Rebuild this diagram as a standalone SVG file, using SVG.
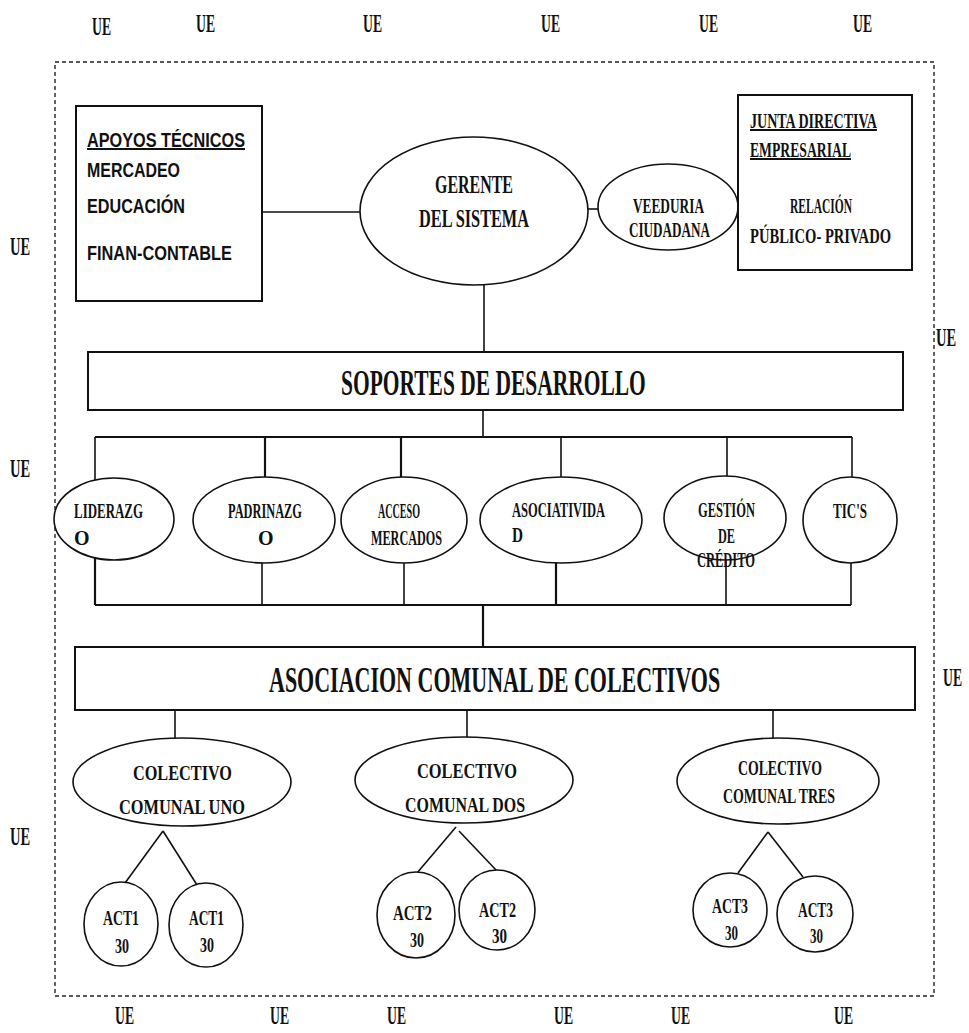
<svg xmlns="http://www.w3.org/2000/svg" width="969" height="1033" viewBox="0 0 969 1033">
<style>
.bg{fill:#fff}
.shape{fill:#fff;stroke:#111;stroke-width:1.6}
.box{fill:#fff;stroke:#111;stroke-width:2}
.ln{fill:none;stroke:#111;stroke-width:1.6}
.bus{fill:none;stroke:#111;stroke-width:2.2}
.dash{fill:none;stroke:#222;stroke-width:1.4;stroke-dasharray:4 3}
.s{font-family:"Liberation Serif",serif;font-weight:bold;fill:#111}
.a{font-family:"Liberation Sans",Arial,sans-serif;font-weight:bold;fill:#111;font-size:20px}
.ue{font-family:"Liberation Serif",serif;font-weight:bold;fill:#111;font-size:26px}
.f20{font-size:20px}
.f22{font-size:22px}
.f24{font-size:25px}
</style>
<rect class="bg" x="0" y="0" width="969" height="1033"/>

<g id="ue-labels">
<text class="ue" transform="translate(92,35) scale(0.56,1)" textLength="34" lengthAdjust="spacingAndGlyphs">UE</text>
<text class="ue" transform="translate(196,32) scale(0.56,1)" textLength="34" lengthAdjust="spacingAndGlyphs">UE</text>
<text class="ue" transform="translate(363,32) scale(0.56,1)" textLength="34" lengthAdjust="spacingAndGlyphs">UE</text>
<text class="ue" transform="translate(541,32) scale(0.56,1)" textLength="34" lengthAdjust="spacingAndGlyphs">UE</text>
<text class="ue" transform="translate(699,32) scale(0.56,1)" textLength="34" lengthAdjust="spacingAndGlyphs">UE</text>
<text class="ue" transform="translate(853,32) scale(0.56,1)" textLength="34" lengthAdjust="spacingAndGlyphs">UE</text>
<text class="ue" transform="translate(10,255) scale(0.56,1)" textLength="36" lengthAdjust="spacingAndGlyphs">UE</text>
<text class="ue" transform="translate(10,477) scale(0.56,1)" textLength="36" lengthAdjust="spacingAndGlyphs">UE</text>
<text class="ue" transform="translate(10,845) scale(0.56,1)" textLength="36" lengthAdjust="spacingAndGlyphs">UE</text>
<text class="ue" transform="translate(936,346) scale(0.56,1)" textLength="36" lengthAdjust="spacingAndGlyphs">UE</text>
<text class="ue" transform="translate(943,686) scale(0.56,1)" textLength="34" lengthAdjust="spacingAndGlyphs">UE</text>
<text class="ue" transform="translate(115,1024) scale(0.56,1)" textLength="34" lengthAdjust="spacingAndGlyphs">UE</text>
<text class="ue" transform="translate(270,1024) scale(0.56,1)" textLength="34" lengthAdjust="spacingAndGlyphs">UE</text>
<text class="ue" transform="translate(387,1024) scale(0.56,1)" textLength="34" lengthAdjust="spacingAndGlyphs">UE</text>
<text class="ue" transform="translate(554,1024) scale(0.56,1)" textLength="34" lengthAdjust="spacingAndGlyphs">UE</text>
<text class="ue" transform="translate(671,1024) scale(0.56,1)" textLength="34" lengthAdjust="spacingAndGlyphs">UE</text>
<text class="ue" transform="translate(834,1024) scale(0.56,1)" textLength="34" lengthAdjust="spacingAndGlyphs">UE</text>
</g>

<rect id="boundary" class="dash" x="55" y="62" width="879" height="934"/>

<g id="connectors">
<line class="ln" x1="262" y1="212" x2="360" y2="212"/>
<line class="ln" x1="588" y1="209" x2="598" y2="209"/>
<line class="ln" x1="484" y1="285" x2="484" y2="352"/>
<line class="ln" x1="483" y1="410" x2="483" y2="437"/>
<line class="bus" x1="95" y1="437" x2="852" y2="437"/>
<line class="ln" x1="95" y1="437" x2="95" y2="481"/>
<line class="bus" x1="265" y1="437" x2="265" y2="477"/>
<line class="bus" x1="401" y1="437" x2="401" y2="477"/>
<line class="ln" x1="561" y1="437" x2="561" y2="477"/>
<line class="ln" x1="727" y1="437" x2="727" y2="476"/>
<line class="ln" x1="852" y1="437" x2="852" y2="477"/>
<line class="bus" x1="95" y1="557" x2="95" y2="605"/>
<line class="ln" x1="262" y1="563" x2="262" y2="605"/>
<line class="ln" x1="404" y1="563" x2="404" y2="605"/>
<line class="bus" x1="556" y1="563" x2="556" y2="605"/>
<line class="ln" x1="726" y1="560" x2="726" y2="605"/>
<line class="ln" x1="851" y1="563" x2="851" y2="605"/>
<line class="bus" x1="95" y1="605" x2="851" y2="605"/>
<line class="bus" x1="483" y1="605" x2="483" y2="647"/>
<line class="ln" x1="175" y1="710" x2="175" y2="738"/>
<line class="ln" x1="467" y1="710" x2="467" y2="737"/>
<line class="ln" x1="773" y1="710" x2="773" y2="738"/>
<line class="ln" x1="163" y1="831" x2="125" y2="883"/>
<line class="ln" x1="163" y1="831" x2="197" y2="885"/>
<line class="ln" x1="456" y1="827" x2="417" y2="873"/>
<line class="ln" x1="459" y1="831" x2="497" y2="871"/>
<line class="ln" x1="768" y1="832" x2="738" y2="873"/>
<line class="ln" x1="768" y1="832" x2="803" y2="877"/>
</g>

<g id="apoyos">
<rect class="box" x="76" y="106" width="186" height="195"/>
<text class="a" x="87" y="147" textLength="158" lengthAdjust="spacingAndGlyphs" text-decoration="underline">APOYOS TÉCNICOS</text>
<text class="a" x="87" y="177" textLength="93" lengthAdjust="spacingAndGlyphs">MERCADEO</text>
<text class="a" x="87" y="213" textLength="98" lengthAdjust="spacingAndGlyphs">EDUCACIÓN</text>
<text class="a" x="87" y="260" textLength="145" lengthAdjust="spacingAndGlyphs">FINAN-CONTABLE</text>
</g>

<g id="gerente">
<ellipse class="shape" cx="474" cy="211" rx="114" ry="74"/>
<text class="s f24" x="435" y="193" textLength="78" lengthAdjust="spacingAndGlyphs">GERENTE</text>
<text class="s f24" x="419" y="227" textLength="110" lengthAdjust="spacingAndGlyphs">DEL SISTEMA</text>
</g>

<g id="veeduria">
<ellipse class="shape" cx="668" cy="207" rx="70" ry="43"/>
<text class="s f20" x="633" y="213" textLength="71" lengthAdjust="spacingAndGlyphs">VEEDURIA</text>
<text class="s f20" x="629" y="237" textLength="81" lengthAdjust="spacingAndGlyphs">CIUDADANA</text>
</g>

<g id="junta">
<rect class="box" x="738" y="95" width="174" height="175"/>
<text class="s f20" x="750" y="128" textLength="127" lengthAdjust="spacingAndGlyphs" text-decoration="underline">JUNTA DIRECTIVA</text>
<text class="s f20" x="750" y="157" textLength="101" lengthAdjust="spacingAndGlyphs" text-decoration="underline">EMPRESARIAL</text>
<text class="s f20" x="790" y="213" textLength="62" lengthAdjust="spacingAndGlyphs">RELACIÓN</text>
<text class="s f20" x="750" y="243" textLength="141" lengthAdjust="spacingAndGlyphs">PÚBLICO- PRIVADO</text>
</g>

<g id="soportes">
<rect class="box" x="88" y="352" width="815" height="58"/>
<text class="s" style="font-size:36px" transform="translate(341,395) scale(0.6,1)" textLength="508" lengthAdjust="spacingAndGlyphs">SOPORTES DE DESARROLLO</text>
</g>

<g id="liderazgo">
<ellipse class="shape" cx="114" cy="519" rx="60" ry="41"/>
<text class="s f20" x="74" y="518" textLength="69" lengthAdjust="spacingAndGlyphs">LIDERAZG</text>
<text class="s f20" x="74" y="545">O</text>
</g>

<g id="padrinazgo">
<ellipse class="shape" cx="264" cy="520" rx="71" ry="43"/>
<text class="s f20" x="228" y="518" textLength="74" lengthAdjust="spacingAndGlyphs">PADRINAZG</text>
<text class="s f20" x="258" y="545">O</text>
</g>

<g id="acceso">
<ellipse class="shape" cx="404" cy="520" rx="63" ry="43"/>
<text class="s f20" x="378" y="518" textLength="42" lengthAdjust="spacingAndGlyphs">ACCESO</text>
<text class="s f20" x="371" y="545" textLength="71" lengthAdjust="spacingAndGlyphs">MERCADOS</text>
</g>

<g id="asociatividad">
<ellipse class="shape" cx="561" cy="520" rx="81" ry="43"/>
<text class="s f20" x="512" y="517" textLength="93" lengthAdjust="spacingAndGlyphs">ASOCIATIVIDA</text>
<text class="s f20" x="512" y="542" textLength="11" lengthAdjust="spacingAndGlyphs">D</text>
</g>

<g id="gestion">
<ellipse class="shape" cx="725" cy="518" rx="61" ry="42"/>
<text class="s f20" x="698" y="517" textLength="57" lengthAdjust="spacingAndGlyphs">GESTIÓN</text>
<text class="s f20" x="718" y="543" textLength="17" lengthAdjust="spacingAndGlyphs">DE</text>
<text class="s f20" x="697" y="567" textLength="58" lengthAdjust="spacingAndGlyphs">CRÉDITO</text>
</g>

<g id="tics">
<ellipse class="shape" cx="850" cy="520" rx="47" ry="43"/>
<text class="s f20" x="833" y="518" textLength="34" lengthAdjust="spacingAndGlyphs">TIC'S</text>
</g>

<g id="asociacion">
<rect class="box" x="75" y="647" width="840" height="63"/>
<text class="s" style="font-size:36px" transform="translate(269,692) scale(0.6,1)" textLength="752" lengthAdjust="spacingAndGlyphs">ASOCIACION COMUNAL DE COLECTIVOS</text>
</g>

<g id="colectivo-uno">
<ellipse class="shape" cx="182" cy="782" rx="109" ry="44"/>
<text class="s f22" x="133" y="780" textLength="99" lengthAdjust="spacingAndGlyphs">COLECTIVO</text>
<text class="s f22" x="119" y="814" textLength="126" lengthAdjust="spacingAndGlyphs">COMUNAL UNO</text>
</g>

<g id="colectivo-dos">
<ellipse class="shape" cx="464" cy="780" rx="109" ry="43"/>
<text class="s f22" x="417" y="778" textLength="100" lengthAdjust="spacingAndGlyphs">COLECTIVO</text>
<text class="s f22" x="405" y="812" textLength="120" lengthAdjust="spacingAndGlyphs">COMUNAL DOS</text>
</g>

<g id="colectivo-tres">
<ellipse class="shape" cx="778" cy="781" rx="101" ry="43"/>
<text class="s f20" x="738" y="775" textLength="84" lengthAdjust="spacingAndGlyphs">COLECTIVO</text>
<text class="s f20" x="723" y="803" textLength="112" lengthAdjust="spacingAndGlyphs">COMUNAL TRES</text>
</g>

<g id="act1-a">
<ellipse class="shape" cx="121" cy="924" rx="37" ry="42"/>
<text class="s f22" x="103" y="925" textLength="36" lengthAdjust="spacingAndGlyphs">ACT1</text>
<text class="s f22" x="115" y="953" textLength="14" lengthAdjust="spacingAndGlyphs">30</text>
</g>
<g id="act1-b">
<ellipse class="shape" cx="206" cy="925" rx="37" ry="42"/>
<text class="s f22" x="189" y="925" textLength="35" lengthAdjust="spacingAndGlyphs">ACT1</text>
<text class="s f22" x="200" y="952" textLength="14" lengthAdjust="spacingAndGlyphs">30</text>
</g>
<g id="act2-a">
<ellipse class="shape" cx="416" cy="915" rx="39" ry="43"/>
<text class="s f22" x="393" y="920" textLength="39" lengthAdjust="spacingAndGlyphs">ACT2</text>
<text class="s f22" x="410" y="947" textLength="14" lengthAdjust="spacingAndGlyphs">30</text>
</g>
<g id="act2-b">
<ellipse class="shape" cx="497" cy="910" rx="38" ry="40"/>
<text class="s f22" x="479" y="917" textLength="37" lengthAdjust="spacingAndGlyphs">ACT2</text>
<text class="s f22" x="492" y="943" textLength="15" lengthAdjust="spacingAndGlyphs">30</text>
</g>
<g id="act3-a">
<ellipse class="shape" cx="730" cy="910" rx="37" ry="37"/>
<text class="s f22" x="712" y="913" textLength="36" lengthAdjust="spacingAndGlyphs">ACT3</text>
<text class="s f22" x="725" y="940" textLength="13" lengthAdjust="spacingAndGlyphs">30</text>
</g>
<g id="act3-b">
<ellipse class="shape" cx="815" cy="914" rx="38" ry="38"/>
<text class="s f22" x="798" y="917" textLength="35" lengthAdjust="spacingAndGlyphs">ACT3</text>
<text class="s f22" x="810" y="943" textLength="13" lengthAdjust="spacingAndGlyphs">30</text>
</g>
</svg>
